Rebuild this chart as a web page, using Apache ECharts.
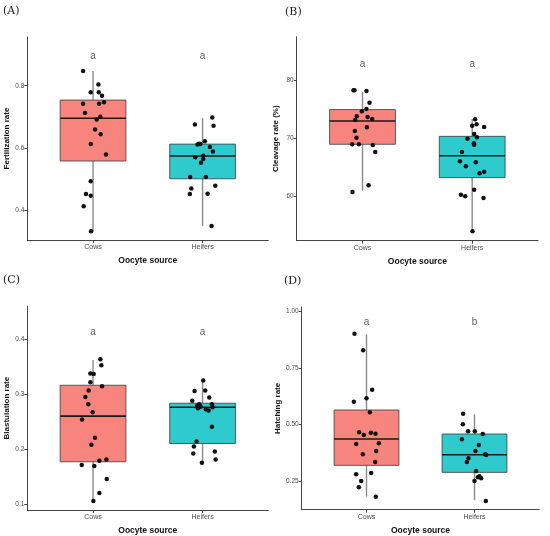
<!DOCTYPE html>
<html>
<head>
<meta charset="utf-8">
<script src="https://cdn.jsdelivr.net/npm/echarts@6/dist/echarts.min.js"></script>
<style>
html,body{margin:0;padding:0;background:#fff;}
#chart{width:550px;height:536px;}
</style>
</head>
<body>
<div id="chart"></div>
<script>
const categories = ['Cows', 'Heifers'];
const xLabel = 'Oocyte source';
const panelTags = ['(A)', '(B)', '(C)', '(D)'];
const yNames = ['Fertilization rate', 'Cleavage rate (%)', 'Blastulation rate', 'Hatching rate'];

// box stats: [lowerWhisker, q1, median, q3, upperWhisker]
const fertBox = [[0.335, 0.559, 0.696, 0.754, 0.847], [0.351, 0.502, 0.575, 0.613, 0.696]];
const cleavBox = [[60.98, 69.0, 73.03, 75.0, 78.04], [53.89, 63.23, 67.03, 70.37, 73.37]];
const blastBox = [[0.106, 0.1774, 0.2603, 0.3165, 0.3625], [0.1756, 0.2106, 0.2766, 0.2838, 0.325]];
const hatchBox = [[0.1808, 0.3193, 0.4357, 0.5639, 0.8983], [0.1646, 0.2883, 0.3664, 0.4578, 0.5447]];

// significance letters and their heights
const fertLetters = ['a', 'a'];   const fertLetterY = 0.895;
const cleavLetters = ['a', 'a'];  const cleavLetterY = 82.88;
const blastLetters = ['a', 'a'];  const blastLetterY = 0.4127;
const hatchLetters = ['a', 'b'];  const hatchLetterY = 0.951;

// jittered points (x position on the discrete axis, y value)
const fertCowsX = [0.909,1.049,0.979,1.052,1.082,0.909,1.055,1.100,0.927,1.067,1.033,1.018,1.070,0.979,1.119,0.979,0.936,0.979,0.915,0.982];
const fertCowsY = [0.847,0.804,0.779,0.779,0.768,0.742,0.742,0.747,0.713,0.701,0.692,0.660,0.645,0.613,0.580,0.494,0.453,0.448,0.414,0.334];
const fertHeifX = [2.088,1.930,2.100,2.021,1.967,1.954,1.979,2.067,2.094,1.933,2.006,2.006,1.985,1.887,2.030,1.897,2.116,1.884,2.046,2.082];
const fertHeifY = [0.698,0.676,0.672,0.622,0.614,0.612,0.613,0.604,0.589,0.571,0.576,0.565,0.553,0.508,0.508,0.471,0.480,0.453,0.454,0.351];

const cleavCowsX = [0.918,0.927,1.036,1.064,1.036,0.994,0.948,1.046,0.933,1.088,0.930,1.040,0.945,0.906,0.967,1.094,1.116,1.055,0.909];
const cleavCowsY = [78.33,78.33,78.21,76.2,75.1,74.7,73.83,73.72,73.2,73.37,71.3,71.93,70.14,69.0,69.0,68.88,67.67,61.9,60.75];
const cleavHeifX = [2.027,2.040,2.000,2.109,2.018,1.957,2.043,2.015,2.018,1.906,1.888,1.942,2.033,2.109,2.067,2.018,1.897,1.936,2.103,2.003];
const cleavHeifY = [73.31,72.45,72.22,71.99,70.78,69.97,70.2,69.16,68.93,67.67,66.05,65.19,65.88,64.27,63.98,61.15,60.29,60.0,59.71,53.95];

const blastCowsX = [1.067,1.076,0.976,1.006,0.976,1.082,0.960,0.930,0.957,0.997,0.900,1.018,0.985,1.122,1.058,0.897,1.012,1.125,1.058,1.003];
const blastCowsY = [0.3637,0.3528,0.3377,0.337,0.322,0.3147,0.3068,0.2953,0.282,0.2675,0.2542,0.2209,0.2082,0.1816,0.1792,0.1713,0.1695,0.1459,0.1205,0.106];
const blastHeifX = [2.006,1.927,2.024,1.906,2.061,1.970,1.951,1.982,1.957,2.030,2.085,2.091,2.055,2.085,1.945,1.921,2.112,1.915,2.119,1.994];
const blastHeifY = [0.325,0.3062,0.3068,0.2881,0.294,0.282,0.2796,0.2772,0.2747,0.273,0.282,0.2766,0.2705,0.2409,0.2143,0.2052,0.1961,0.1925,0.1816,0.1756];

const hatchCowsX = [0.889,0.969,1.052,1.000,0.883,1.031,0.932,0.975,1.040,1.083,0.904,1.114,0.966,1.090,1.080,0.904,1.043,0.951,0.929,1.086];
const hatchCowsY = [0.9013,0.8276,0.6537,0.6154,0.6007,0.5536,0.4651,0.4534,0.4637,0.4593,0.4136,0.4165,0.3679,0.3827,0.334,0.2795,0.2854,0.25,0.222,0.1808];
const hatchHeifX = [1.895,1.892,1.941,2.003,2.077,1.883,2.040,2.009,2.099,2.108,1.944,1.929,2.015,2.046,2.031,2.062,2.000,2.105];
const hatchHeifY = [0.5477,0.5005,0.4696,0.4696,0.4578,0.4342,0.4092,0.3827,0.3679,0.365,0.3502,0.334,0.2943,0.2707,0.2662,0.2618,0.25,0.1616];

// y-axis ranges and ticks
const yRanges = [[0.306, 0.956], [52.33, 87.6], [0.0897, 0.46], [0.1233, 1.019]];
const yTicks = [[0.4, 0.6, 0.8], [60, 70, 80], [0.1, 0.2, 0.3, 0.4], [0.25, 0.5, 0.75, 1.0]];
const yDecimals = [1, 0, 1, 2];

const fills = ['#F8857D', '#2ECACD'];

const panels = [
  {box: fertBox, letters: fertLetters, ly: fertLetterY, pts: [[fertCowsX, fertCowsY], [fertHeifX, fertHeifY]]},
  {box: cleavBox, letters: cleavLetters, ly: cleavLetterY, pts: [[cleavCowsX, cleavCowsY], [cleavHeifX, cleavHeifY]]},
  {box: blastBox, letters: blastLetters, ly: blastLetterY, pts: [[blastCowsX, blastCowsY], [blastHeifX, blastHeifY]]},
  {box: hatchBox, letters: hatchLetters, ly: hatchLetterY, pts: [[hatchCowsX, hatchCowsY], [hatchHeifX, hatchHeifY]]}
];

const grids = [
  {left: 27.3, right: 550 - 268.3, top: 37, bottom: 536 - 240},
  {left: 296.7, right: 550 - 538, top: 36.7, bottom: 536 - 240.7},
  {left: 27.3, right: 550 - 268.3, top: 306.3, bottom: 536 - 510.3},
  {left: 301.7, right: 550 - 539.3, top: 307, bottom: 536 - 509.7}
];
const tagPos = [[3, 6], [285, 7], [3, 275], [284, 276]];

function renderBox(params, api) {
  const x = api.value(0), lo = api.value(1), q1 = api.value(2), med = api.value(3), q3 = api.value(4), hi = api.value(5);
  const hw = 0.3;
  const pLo = api.coord([x, lo]), pQ1 = api.coord([x, q1]), pQ3 = api.coord([x, q3]), pHi = api.coord([x, hi]);
  const tl = api.coord([x - hw, q3]), br = api.coord([x + hw, q1]);
  const pm = api.coord([x - hw, med]), pm2 = api.coord([x + hw, med]);
  const wStyle = {stroke: '#8a8a8a', lineWidth: 1.4};
  return {type: 'group', children: [
    {type: 'line', shape: {x1: pHi[0], y1: pHi[1], x2: pQ3[0], y2: pQ3[1]}, style: wStyle},
    {type: 'line', shape: {x1: pQ1[0], y1: pQ1[1], x2: pLo[0], y2: pLo[1]}, style: wStyle},
    {type: 'rect', shape: {x: tl[0], y: tl[1], width: br[0] - tl[0], height: br[1] - tl[1]},
      style: {fill: fills[params.dataIndex], stroke: '#3a3a3a', lineWidth: 0.8}},
    {type: 'line', shape: {x1: pm[0], y1: pm[1], x2: pm2[0], y2: pm2[1]}, style: {stroke: '#1a1a1a', lineWidth: 1.6}}
  ]};
}

const option = {
  backgroundColor: '#ffffff',
  animation: false,
  title: panelTags.map((t, i) => ({
    text: t, left: tagPos[i][0], top: tagPos[i][1], padding: 0,
    textStyle: {fontFamily: 'DejaVu Serif', fontSize: 11, fontWeight: 'normal', color: '#222'}
  })),
  grid: grids,
  xAxis: grids.map((g, i) => ({
    type: 'value', gridIndex: i, min: 0.4, max: 2.6,
    name: xLabel, nameLocation: 'middle', nameGap: 16,
    nameTextStyle: {fontFamily: 'Liberation Sans', fontSize: 8.5, fontWeight: 'bold', color: '#111'},
    splitLine: {show: false},
    axisLine: {lineStyle: {color: '#444', width: 1}},
    axisTick: {show: true, length: 3, customValues: [1, 2], lineStyle: {color: '#444'}},
    axisLabel: {customValues: [1, 2], formatter: v => categories[Math.round(v) - 1] || '', fontSize: 7, margin: 4,
      color: '#4d4d4d', fontFamily: 'Liberation Sans'}
  })),
  yAxis: grids.map((g, i) => ({
    type: 'value', gridIndex: i, min: yRanges[i][0], max: yRanges[i][1],
    name: yNames[i], nameLocation: 'middle', nameGap: 17,
    nameTextStyle: {fontFamily: 'Liberation Sans', fontSize: 8, fontWeight: 'bold', color: '#111'},
    splitLine: {show: false},
    axisLine: {show: true, lineStyle: {color: '#444', width: 1}},
    axisTick: {show: true, length: 3, customValues: yTicks[i], lineStyle: {color: '#444'}},
    axisLabel: {customValues: yTicks[i], formatter: v => Number(v).toFixed(yDecimals[i]), fontSize: 6.5, margin: 3,
      color: '#4d4d4d', fontFamily: 'Liberation Sans'}
  })),
  series: []
};

panels.forEach((p, i) => {
  option.series.push({
    type: 'custom', xAxisIndex: i, yAxisIndex: i, renderItem: renderBox,
    encode: {x: 0, y: [1, 2, 3, 4, 5]},
    data: p.box.map((b, k) => [k + 1].concat(b)), z: 2
  });
  const pts = [];
  p.pts.forEach(([xs, ys]) => xs.forEach((x, k) => pts.push([x, ys[k]])));
  option.series.push({
    type: 'scatter', xAxisIndex: i, yAxisIndex: i, symbolSize: 4.5,
    itemStyle: {color: '#111', opacity: 1}, data: pts, z: 5
  });
  option.series.push({
    type: 'scatter', xAxisIndex: i, yAxisIndex: i, symbolSize: 0,
    data: p.letters.map((l, k) => [k + 1, p.ly, l]),
    label: {show: true, position: 'inside', formatter: q => q.value[2], fontSize: 10,
      color: '#333', fontFamily: 'Liberation Sans'}, z: 6
  });
});

const chart = echarts.init(document.getElementById('chart'), null, {renderer: 'canvas'});
chart.setOption(option);
</script>
</body>
</html>
